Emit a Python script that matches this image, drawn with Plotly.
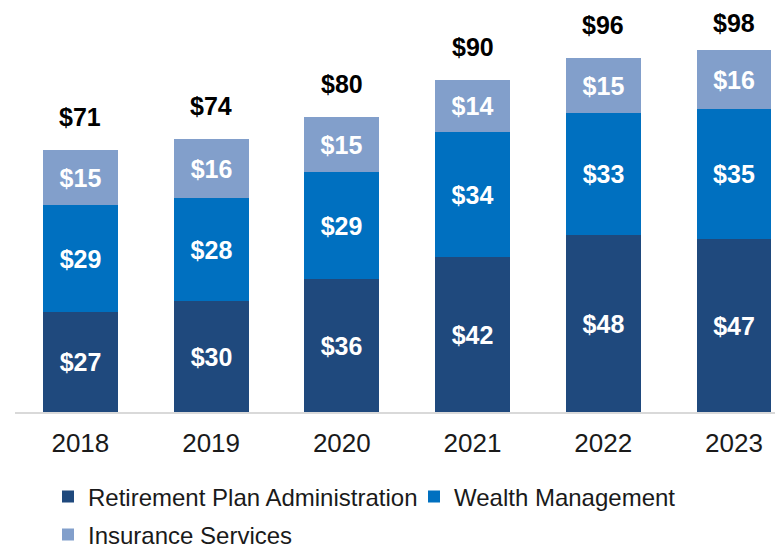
import plotly.graph_objects as go

years = ["2018", "2019", "2020", "2021", "2022", "2023"]
retirement = [27, 30, 36, 42, 48, 47]
wealth = [29, 28, 29, 34, 33, 35]
insurance = [15, 16, 15, 14, 15, 16]
totals = [71, 74, 80, 90, 96, 98]

series_names = ["Retirement Plan Administration", "Wealth Management", "Insurance Services"]
colors = ["#1F497D", "#0070C0", "#829FCB"]
FONT = "Liberation Sans, Arial, sans-serif"

# page has an 8px body margin; figure is sized to end at the window edge
W, H = 775, 539

xpos = list(range(len(years)))
fig = go.Figure()
for i, (name, vals, col) in enumerate(zip(series_names, [retirement, wealth, insurance], colors)):
    fig.add_trace(go.Bar(
        x=xpos, y=vals, name=name, marker=dict(color=col, line=dict(width=0)),
        width=0.573,
        text=[f"${v}" for v in vals], textposition="inside", insidetextanchor="middle",
        constraintext="none",
        textfont=dict(family=FONT, size=25, color="white", weight="bold"),
        hoverinfo="skip",
        legend=["legend", "legend2", "legend3"][i],
    ))

for x, t in zip(xpos, totals):
    fig.add_annotation(x=x, y=min(t + 9, 105.5), text=f"${t}", showarrow=False,
                       font=dict(family=FONT, size=25, color="black", weight="bold"),
                       xanchor="center", yanchor="middle")

leg_common = dict(orientation="h", font=dict(family=FONT, size=24, color="#1a1a1a"),
                  xref="container", yref="container", xanchor="left", yanchor="middle",
                  bgcolor="rgba(0,0,0,0)", itemclick=False)

fig.update_layout(
    width=W, height=H,
    margin=dict(l=6.5, r=0, t=0, b=135, autoexpand=False),
    paper_bgcolor="white", plot_bgcolor="white",
    barmode="stack", bargap=0,
    showlegend=True,
    xaxis=dict(range=[-0.5, 5.375], tickvals=xpos, ticktext=years,
               showline=True, linecolor="#D9D9D9", linewidth=2,
               showgrid=False, zeroline=False, ticks="",
               ticklabelstandoff=7,
               tickfont=dict(family=FONT, size=26, color="#1a1a1a"), fixedrange=True),
    yaxis=dict(range=[0, 109.5], visible=False, showgrid=False, zeroline=False, fixedrange=True),
    legend=dict(x=40 / W, y=1 - 489 / H, **leg_common),
    legend2=dict(x=406 / W, y=1 - 489 / H, **leg_common),
    legend3=dict(x=40 / W, y=1 - 527 / H, **leg_common),
)

fig.write_html("out.html")
